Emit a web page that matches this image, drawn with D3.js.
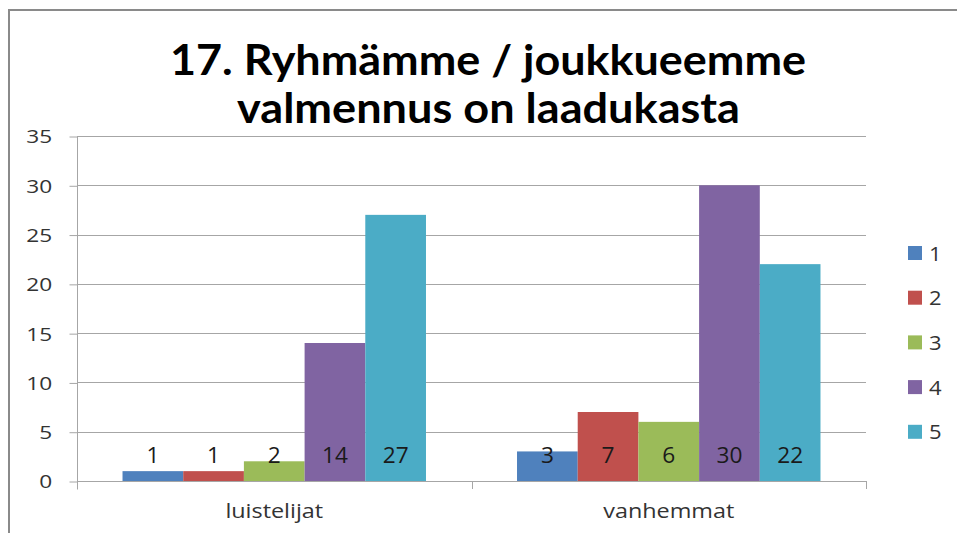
<!DOCTYPE html>
<html>
<head>
<meta charset="utf-8">
<script src="https://cdn.jsdelivr.net/npm/d3@7"></script>
<style>
  body { margin: 0; background: #fff; }
  svg { display: block; }
  text { font-family: "Open Sans", "Noto Sans", sans-serif; }
</style>
</head>
<body>
<svg></svg>
<script>
// Chart data
let titleLines = ['17. Ryhmämme / joukkueemme', 'valmennus on laadukasta'];
let categories = ['luistelijat', 'vanhemmat'];
let seriesNames = ['1', '2', '3', '4', '5'];
let seriesValues = [
    [1, 3],
    [1, 7],
    [2, 6],
    [14, 30],
    [27, 22]
];
let yTicks = [0, 5, 10, 15, 20, 25, 30, 35];
let colors = ['#4F81BD', '#C0504D', '#9BBB59', '#8064A2', '#4BACC6'];

// SVG dimensions
let width = 957, height = 533;
let plot = { left: 77, right: 866, top: 136, bottom: 481 };

let svg = d3.select('svg')
    .attr('width', width)
    .attr('height', height);

// chart frame (cropped at right and bottom like the screenshot)
svg.append('rect')
    .attr('x', 9).attr('y', 10)
    .attr('width', 1000).attr('height', 600)
    .attr('fill', 'none')
    .attr('stroke', '#8a8a8a')
    .attr('stroke-width', 2);

// title
svg.append('g')
    .selectAll('text')
    .data(titleLines)
    .enter()
    .append('text')
    .attr('x', (d, i) => i === 0 ? 170 : 237)
    .attr('y', (d, i) => 75 + i * 48)
    .attr('textLength', (d, i) => i === 0 ? 636 : 503)
    .attr('lengthAdjust', 'spacingAndGlyphs')
    .style('font-family', 'Lato, sans-serif')
    .style('font-weight', 'bold')
    .style('font-size', '42px')
    .style('fill', '#000')
    .text(d => d);

// scales
let x0 = d3.scaleBand()
    .domain(categories)
    .range([plot.left, plot.right]);

let x1 = d3.scaleBand()
    .domain(seriesNames)
    .range([0, x0.bandwidth()])
    .paddingOuter(0.75);

let y = d3.scaleLinear()
    .domain([0, 35])
    .range([plot.bottom, plot.top]);

// gridlines
svg.append('g')
    .selectAll('line')
    .data(yTicks)
    .enter()
    .append('line')
    .attr('x1', plot.left).attr('x2', plot.right)
    .attr('y1', d => Math.round(y(d)) + 0.5)
    .attr('y2', d => Math.round(y(d)) + 0.5)
    .attr('stroke', '#a6a6a6')
    .attr('stroke-width', 1);

// y axis
let yAxis = svg.append('g')
    .attr('transform', 'translate(' + (plot.left + 0.5) + ',0.5)')
    .call(d3.axisLeft(y).tickValues(yTicks).tickSize(8));
yAxis.select('.domain').attr('stroke', '#a6a6a6').attr('d', 'M0,' + plot.top + 'V' + (plot.bottom + 8));
yAxis.selectAll('.tick line').attr('stroke', '#a6a6a6');
// the reference is stretched sideways, so the labels get a horizontal scale
yAxis.selectAll('.tick text')
    .attr('x', -20)
    .attr('dy', '0.36em')
    .attr('transform', 'scale(1.26,1)')
    .style('font-size', '18px')
    .style('font-family', '"Open Sans", sans-serif')
    .attr('fill', '#333');

// bars
let groups = svg.append('g')
    .selectAll('g')
    .data(seriesNames)
    .enter()
    .append('g')
    .attr('fill', (d, i) => colors[i]);

groups.selectAll('rect')
    .data((s, i) => categories.map((c, j) => ({ cat: c, series: s, value: seriesValues[i][j] })))
    .enter()
    .append('rect')
    .attr('x', d => x0(d.cat) + x1(d.series))
    .attr('width', x1.bandwidth())
    .attr('y', d => y(d.value))
    .attr('height', d => y(0) - y(d.value));

// x axis line and ticks
svg.append('line')
    .attr('x1', plot.left).attr('x2', plot.right)
    .attr('y1', plot.bottom + 0.5).attr('y2', plot.bottom + 0.5)
    .attr('stroke', '#a6a6a6');

let xBoundaries = [plot.left, x0(categories[1]), plot.right];
svg.append('g')
    .selectAll('line')
    .data(xBoundaries)
    .enter()
    .append('line')
    .attr('x1', d => Math.round(d) + 0.5).attr('x2', d => Math.round(d) + 0.5)
    .attr('y1', plot.bottom).attr('y2', plot.bottom + 8)
    .attr('stroke', '#a6a6a6');

// category labels
svg.append('g')
    .selectAll('text')
    .data(categories)
    .enter()
    .append('text')
    .attr('transform', d => 'translate(' + (x0(d) + x0.bandwidth() / 2) + ',518) scale(1.2,1)')
    .attr('text-anchor', 'middle')
    .style('font-size', '19.5px')
    .style('fill', '#333')
    .text(d => d);

// data labels (inside base)
groups.selectAll('text')
    .data((s, i) => categories.map((c, j) => ({ cat: c, series: s, value: seriesValues[i][j] })))
    .enter()
    .append('text')
    .attr('transform', d => 'translate(' + (x0(d.cat) + x1(d.series) + x1.bandwidth() / 2) + ',' + (y(0) - 18) + ') scale(1.08,1)')
    .attr('text-anchor', 'middle')
    .style('font-size', '21px')
    .style('fill', '#1a1a1a')
    .text(d => d.value);

// legend
let legend = svg.append('g')
    .selectAll('g')
    .data(seriesNames)
    .enter()
    .append('g')
    .attr('transform', (d, i) => 'translate(908,' + (246 + i * 44.7) + ')');

legend.append('rect')
    .attr('width', 14).attr('height', 14)
    .attr('fill', (d, i) => colors[i]);

legend.append('text')
    .attr('transform', 'translate(21,14.5) scale(1.1,1)')
    .style('font-size', '20px')
    .style('fill', '#333')
    .text(d => d);
</script>
</body>
</html>
